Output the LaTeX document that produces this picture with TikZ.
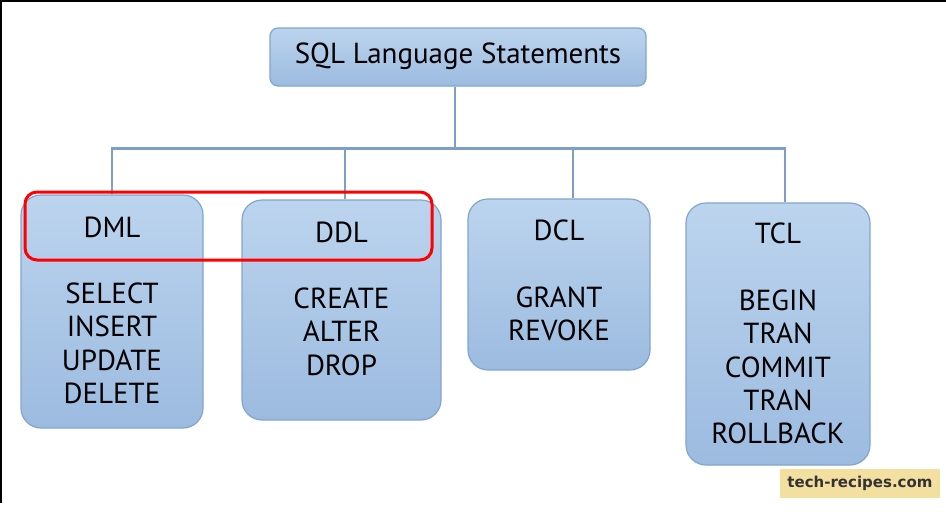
\documentclass[tikz,border=0pt]{standalone}
\usepackage{fontspec}
\setmainfont{PT Sans}
\newfontfamily\wmfont{DejaVu Sans}
\usepackage{xcolor}
\usetikzlibrary{positioning,calc}
\definecolor{sqltop}{RGB}{188,212,238}
\definecolor{sqlbot}{RGB}{156,187,224}
\definecolor{sqledge}{RGB}{130,164,208}
\definecolor{sqlline}{RGB}{125,158,200}
\definecolor{wmfill}{RGB}{243,223,160}
\definecolor{wmtext}{RGB}{51,51,51}

\begin{document}
\begin{tikzpicture}[
        x=1pt, y=1pt,
        every node/.style={font=\fontsize{29}{33.4}\selectfont, text=black},
        rootbox/.style={rectangle, draw=sqledge, line width=1.2pt, rounded corners=8pt,
            top color=sqltop, bottom color=sqlbot, minimum width=376pt, minimum height=58pt,
            text height=20.5pt, text depth=7pt},
        catbox/.style={rectangle, draw=sqledge, line width=1.2pt, rounded corners=20pt,
            top color=sqltop, bottom color=sqlbot, inner sep=0pt},
        cattitle/.style={inner sep=0pt},
        catitems/.style={inner sep=0pt, align=center, anchor=north},
        link/.style={draw=sqlline, line width=2.4pt}
    ]
        \useasboundingbox (0,0) rectangle (946,-520);

        % frame
        \draw[line width=2pt] (1,-503) -- (1,-1) -- (946,-1);

        % root
        \node[rootbox] (sql) at (458,-57) {SQL Language Statements};

        % categories
        \node[catbox, minimum width=182pt, minimum height=233pt] (dml) at (112,-311.5) {};
        \node[catbox, minimum width=199pt, minimum height=220pt] (ddl) at (341.5,-310) {};
        \node[catbox, minimum width=182pt, minimum height=171pt] (dcl) at (559,-284.5) {};
        \node[catbox, minimum width=184pt, minimum height=262pt] (tcl) at (778,-334) {};

        \node[cattitle] (dmlt) at ([yshift=-33pt]dml.north) {DML};
        \node[cattitle] (ddlt) at ([yshift=-33pt]ddl.north) {DDL};
        \node[cattitle] (dclt) at ([yshift=-32pt]dcl.north) {DCL};
        \node[cattitle] (tclt) at ([yshift=-31pt]tcl.north) {TCL};

        \node[catitems, below=55pt of dmlt.center] (dmli) {SELECT\\INSERT\\UPDATE\\DELETE};
        \node[catitems, below=55pt of ddlt.center] (ddli) {CREATE\\ALTER\\DROP};
        \node[catitems, below=56pt of dclt.center] (dcli) {GRANT\\REVOKE};
        \node[catitems, below=56pt of tclt.center] (tcli) {BEGIN\\TRAN\\COMMIT\\TRAN\\ROLLBACK};

        % tree lines
        \coordinate (hub) at ($(sql.south)+(-3,-62)$);
        \draw[link] (sql.south -| hub) -- (hub);
        \draw[link] (dml.north) |- (hub) -| ([xshift=7pt]tcl.north);
        \draw[link] ([xshift=3.5pt]ddl.north) -- ([xshift=3.5pt]ddl.north |- hub);
        \draw[link] ([xshift=14pt]dcl.north) -- ([xshift=14pt]dcl.north |- hub);

        % highlight
        \draw[red, line width=3pt, rounded corners=12pt] (25,-192) rectangle (432,-260);

        % watermark
        \node[fill=wmfill, minimum width=160pt, minimum height=29pt, inner sep=0pt,
            font=\wmfont\bfseries\fontsize{15}{18}\selectfont, text=wmtext] (wm) at (860,-483.5) {tech-recipes.com};
    \end{tikzpicture}
\end{document}
